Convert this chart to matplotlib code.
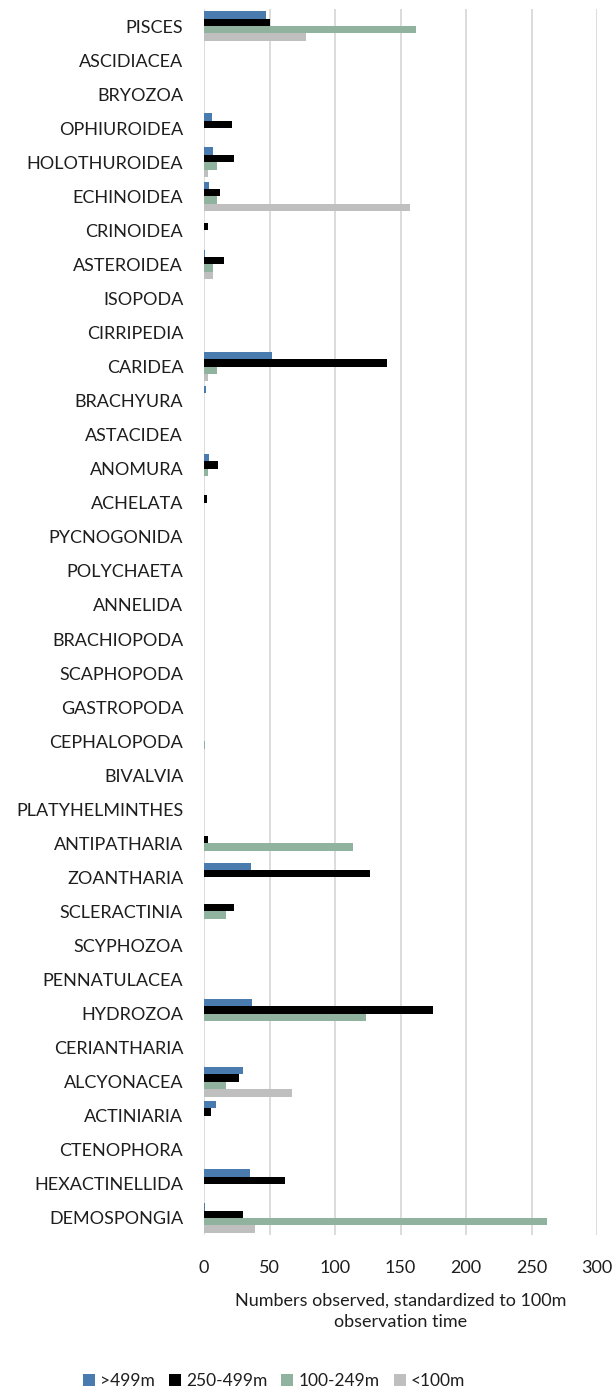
import matplotlib
matplotlib.use("Agg")
import matplotlib.pyplot as plt
import numpy as np

categories = [
    "PISCES", "ASCIDIACEA", "BRYOZOA", "OPHIUROIDEA", "HOLOTHUROIDEA",
    "ECHINOIDEA", "CRINOIDEA", "ASTEROIDEA", "ISOPODA", "CIRRIPEDIA",
    "CARIDEA", "BRACHYURA", "ASTACIDEA", "ANOMURA", "ACHELATA",
    "PYCNOGONIDA", "POLYCHAETA", "ANNELIDA", "BRACHIOPODA", "SCAPHOPODA",
    "GASTROPODA", "CEPHALOPODA", "BIVALVIA", "PLATYHELMINTHES",
    "ANTIPATHARIA", "ZOANTHARIA", "SCLERACTINIA", "SCYPHOZOA",
    "PENNATULACEA", "HYDROZOA", "CERIANTHARIA", "ALCYONACEA",
    "ACTINIARIA", "CTENOPHORA", "HEXACTINELLIDA", "DEMOSPONGIA",
]

series_labels = [">499m", "250-499m", "100-249m", "<100m"]

deep = [47, 0, 0, 6, 7, 4, 0, 1, 0, 0,
        52, 1.5, 0, 4, 0, 0, 0, 0, 0, 0,
        0, 0, 0, 0, 0, 36, 0, 0, 0, 37,
        0, 30, 9, 0, 35, 1]
mid_deep = [50, 0, 0, 21, 23, 12, 3.3, 15.5, 0, 0,
            139.5, 0, 0, 10.4, 2, 0, 0, 0, 0, 0,
            0, 0, 0, 0, 3.3, 127, 23, 0, 0, 175,
            0, 27, 5, 0, 62, 30]
mid_shallow = [162, 0, 0, 0, 10, 10, 0, 6.5, 0, 0,
               10, 0, 0, 3, 0, 0, 0, 0, 0, 0,
               0, 1, 0, 0, 113.5, 0, 17, 0, 0, 124,
               0, 17, 0, 0, 0, 262]
shallow = [78, 0, 0, 0, 3, 157, 0, 7, 0, 0,
           3, 0, 0, 0, 0, 0, 0, 0, 0, 0,
           0, 0, 0, 0, 0, 0, 0, 0, 0, 0,
           0, 67, 0, 0, 0, 39]

x_ticks = [0, 50, 100, 150, 200, 250, 300]

colors = ["#4A7BAE", "#000000", "#8FB39E", "#BFBFBF"]
text_color = "#1E1E1E"

plt.rcParams["font.family"] = ["Lato", "DejaVu Sans"]

fig = plt.figure(figsize=(6.15, 13.96), dpi=100)
ax = fig.add_axes([204 / 615, 1 - 1235 / 1396, (597 - 204) / 615, (1235 - 9) / 1396])

y = np.arange(len(categories))
h = 0.217
all_series = [deep, mid_deep, mid_shallow, shallow]
for i, (vals, col, lab) in enumerate(zip(all_series, colors, series_labels)):
    ax.barh(y + (i - 1.5) * h, vals, height=h, color=col, label=lab, zorder=3)

ax.set_ylim(len(categories) - 0.5, -0.5)
ax.set_xlim(0, 300)
ax.set_xticks(x_ticks)
ax.set_yticks(y)
ax.set_yticklabels(categories)
ax.tick_params(axis="both", length=0, labelsize=13, colors=text_color)
ax.tick_params(axis="y", pad=15)
ax.tick_params(axis="x", pad=18)
ax.grid(axis="x", color="#D9D9D9", linewidth=1.3, zorder=0)
for s in ax.spines.values():
    s.set_visible(False)

ax.set_xlabel("Numbers observed, standardized to 100m\nobservation time",
              fontsize=13, color=text_color, labelpad=12, linespacing=1.4)

fig.legend(loc="center", bbox_to_anchor=(274 / 615, 1 - 1381 / 1396), ncol=4,
           frameon=False, fontsize=12.5, handlelength=0.7, handleheight=0.7,
           handletextpad=0.3, columnspacing=0.8, labelcolor=text_color)

fig.savefig("out.png", dpi=100)
